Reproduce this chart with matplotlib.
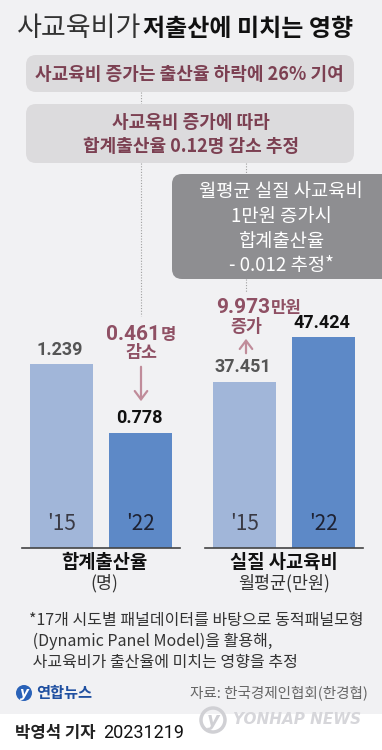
import matplotlib
matplotlib.use("Agg")
import matplotlib.pyplot as plt
from matplotlib.patches import FancyBboxPatch, Rectangle, Circle

plt.rcParams['font.family'] = ['Noto Sans CJK KR', 'DejaVu Sans']

# ---------------- data ----------------
years = ["'15", "'22"]
fertility = [1.239, 0.778]          # 합계출산율 (명)
spending = [37.451, 47.424]         # 월평균 실질 사교육비 (만원)
fert_labels = ["1.239", "0.778"]
spend_labels = ["37.451", "47.424"]
group_titles = ["합계출산율", "실질 사교육비"]
group_units = ["(명)", "월평균(만원)"]
title_light = "사교육비가"
title_bold = "저출산에 미치는 영향"
box1_text = "사교육비 증가는 출산율 하락에 26% 기여"
box2_lines = ["사교육비 증가에 따라", "합계출산율 0.12명 감소 추정"]
box3_lines = ["월평균 실질 사교육비", "1만원 증가시", "합계출산율", "- 0.012 추정*"]
fert_change = ("0.461", "명", "감소")
spend_change = ("9.973", "만원", "증가")
footnote = ["*17개 시도별 패널데이터를 바탕으로 동적패널모형",
            " (Dynamic Panel Model)을 활용해,",
            " 사교육비가 출산율에 미치는 영향을 추정"]
source = "자료: 한국경제인협회(한경협)"
byline = ("박영석 기자", "20231219")

# ---------------- style ----------------
W, H = 382, 750
BG = "#f1f1f3"
LIGHT = "#a1b6d9"
DARK = "#5d89c7"
MAROON = "#7c4052"
MAUVE = "#8f5064"
ARROW = "#c08c9a"
NUM = ['Roboto', 'Noto Sans CJK KR']

fig = plt.figure(figsize=(W / 100, H / 100), dpi=100, facecolor=BG)
ov = fig.add_axes([0, 0, 1, 1])
ov.set_xlim(0, W)
ov.set_ylim(H, 0)
ov.axis("off")
ov.patch.set_alpha(0)

# bottom white strip
ov.add_patch(Rectangle((0, 714), W, H - 714, facecolor="white", edgecolor="none", zorder=0))

# title
ov.text(17, 29, title_light, fontsize=19.5, fontweight="light", color="#333333", va="center", ha="left")
ov.text(143, 29, title_bold, fontsize=17.3, fontweight="bold", color="#111111", va="center", ha="left")

# boxes
def rbox(x0, y0, x1, y1, color, r=10):
    ov.add_patch(FancyBboxPatch((x0 + r, y0 + r), x1 - x0 - 2 * r, y1 - y0 - 2 * r,
                                boxstyle=f"round,pad={r}", facecolor=color, edgecolor="none", zorder=1))

# dotted connectors
dot = dict(ls=(0, (1, 1.5)), color="#a0a0a0", lw=0.8, zorder=0.5)
ov.plot([141, 141], [92, 104], **dot)
ov.plot([141, 141], [163, 316], **dot)
ov.plot([246, 246], [163, 175], **dot)
ov.plot([246, 246], [279, 292], **dot)

rbox(26, 55, 354, 92, "#dcdbdd")
ov.text(189, 75, box1_text, fontsize=13, fontweight="bold", color=MAROON, ha="center", va="center", zorder=2)

rbox(26, 104, 354, 163, "#dcdbdd")
for i, line in enumerate(box2_lines):
    ov.text(191, 123 + i * 24, line, fontsize=13, fontweight="bold", color=MAROON,
            ha="center", va="center", zorder=2)

rbox(172, 174, 395, 279, "#8e8e91")
for i, line in enumerate(box3_lines):
    ov.text(281, 192 + i * 24.5, line, fontsize=13.5, fontweight="normal", color="white",
            ha="center", va="center", zorder=2)

# ---------------- bars ----------------
def bar_axes(x0, values, labels, scale, top_colors):
    ax = fig.add_axes([x0 / W, (H - 548) / H, 158 / W, 248 / H])
    ax.patch.set_alpha(0)
    ax.set_xlim(-0.5, 1.5)
    ax.set_ylim(0, 248 / scale)
    ax.bar([0, 1], values, width=0.79, color=[LIGHT, DARK], zorder=2)
    for s in ["top", "left", "right"]:
        ax.spines[s].set_visible(False)
    ax.spines["bottom"].set_color("#444444")
    ax.spines["bottom"].set_linewidth(1.2)
    ax.set_xticks([])
    ax.set_yticks([])
    for i, (v, lab) in enumerate(zip(values, labels)):
        ax.annotate(lab, (i, v), xytext=(-1, 4), textcoords="offset points",
                    ha="center", va="bottom", fontsize=13, fontweight="bold",
                    color=top_colors[i], family=NUM)
        ax.annotate(years[i], (i, 0), xytext=(0, 9), textcoords="offset points",
                    ha="center", va="bottom", fontsize=15, fontweight="light",
                    color="#3a3a44" if i == 0 else "#1e2233")
    return ax

bar_axes(22, fertility, fert_labels, 148.2, ["#555555", "#111111"])
bar_axes(205, spending, spend_labels, 4.44, ["#555555", "#111111"])

# group titles
for cx, t, u in zip([104, 284], group_titles, group_units):
    ov.text(cx, 562, t, fontsize=13.5, fontweight="bold", color="#111111", ha="center", va="center")
    ov.text(cx, 583, u, fontsize=12.5, color="#333333", ha="center", va="center")

# change annotations
ov.text(160, 340, fert_change[0], fontsize=15, fontweight="bold", color=MAUVE, ha="right",
        va="baseline", family=NUM)
ov.text(161, 340, fert_change[1], fontsize=12, fontweight="bold", color=MAUVE, ha="left", va="baseline")
ov.text(141, 353, fert_change[2], fontsize=12.5, fontweight="bold", color=MAUVE, ha="center", va="center")
ov.annotate("", xy=(141, 404), xytext=(141, 364),
            arrowprops=dict(arrowstyle="->,head_length=0.6,head_width=0.45", color=ARROW, lw=1.6))

ov.text(270, 313, spend_change[0], fontsize=15, fontweight="bold", color=MAUVE, ha="right",
        va="baseline", family=NUM)
ov.text(271, 313, spend_change[1], fontsize=12, fontweight="bold", color=MAUVE, ha="left", va="baseline")
ov.text(246, 327, spend_change[2], fontsize=12.5, fontweight="bold", color=MAUVE, ha="center", va="center")
ov.annotate("", xy=(246, 336), xytext=(246, 356),
            arrowprops=dict(arrowstyle="->,head_length=0.6,head_width=0.45", color=ARROW, lw=1.6))

# footnote
for i, line in enumerate(footnote):
    ov.text(29, 621 + i * 20.5, line, fontsize=11.5, color="#333333", ha="left", va="center")

# logo + source
ov.add_patch(Circle((24, 693), 8, facecolor="#2a62b8", edgecolor="none"))
ov.text(24, 693.5, "y", fontsize=10, fontstyle="italic", fontweight="bold", color="white",
        ha="center", va="center", family="DejaVu Sans")
ov.text(36, 693, "연합뉴스", fontsize=11, fontweight="bold", color="#1f4fa0", ha="left", va="center")
ov.text(368, 693, source, fontsize=10.5, color="#666666", ha="right", va="center")

# watermark
ov.add_patch(Circle((213, 720), 12, facecolor="none", edgecolor="#d0d0d4", lw=2.5, zorder=1))
ov.text(213, 720, "y", fontsize=14, fontstyle="italic", fontweight="bold", color="#d0d0d4",
        ha="center", va="center", family="DejaVu Sans", zorder=1)
ov.text(233, 720, "YONHAP NEWS", fontsize=11, fontstyle="italic", fontweight="bold",
        color="#d6d6da", ha="left", va="center", family="DejaVu Sans", zorder=1)

# byline
ov.text(15, 733, byline[0], fontsize=12, fontweight="bold", color="#222222", ha="left", va="center")
ov.text(103, 733, byline[1], fontsize=13, color="#111111", ha="left", va="center", family=NUM)

fig.savefig("out.png", dpi=100, facecolor=BG)
